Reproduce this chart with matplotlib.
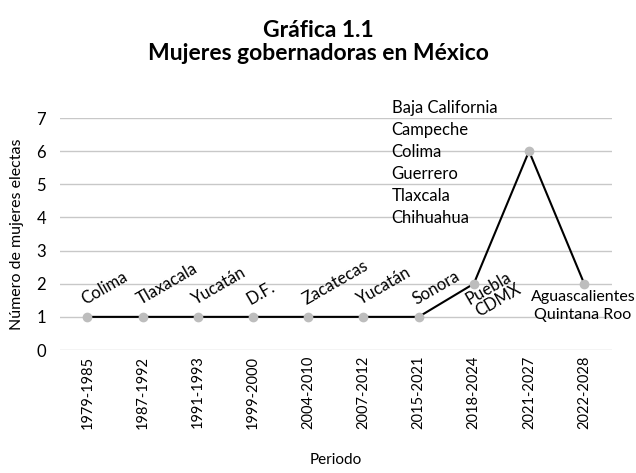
import matplotlib
matplotlib.use("Agg")
import matplotlib.pyplot as plt

plt.rcParams['font.family'] = ['Lato', 'DejaVu Sans']

periodos = ['1979-1985', '1987-1992', '1991-1993', '1999-2000', '2004-2010',
            '2007-2012', '2015-2021', '2018-2024', '2021-2027', '2022-2028']
mujeres = [1, 1, 1, 1, 1, 1, 1, 2, 6, 2]
estados = ['Colima', 'Tlaxacala', 'Yucatán', 'D.F.', 'Zacatecas', 'Yucatán',
           'Sonora', 'Puebla\nCDMX',
           'Baja California\nCampeche\nColima\nGuerrero\nTlaxcala\nChihuahua',
           'Aguascalientes\nQuintana Roo']

fig = plt.figure(figsize=(6.36, 4.73), dpi=100)
ax = fig.add_axes([0.094, 0.26, 0.868, 0.4905])

x = list(range(len(periodos)))
ax.plot(x, mujeres, color='black', lw=1.5, zorder=2)
ax.plot(x, mujeres, 'o', color='#bdbdbd', ms=6, zorder=3)

ax.set_xlim(-0.5, len(periodos) - 0.5)
ax.set_ylim(0, 7)
ax.set_yticks(range(0, 8))
ax.yaxis.grid(True, color='#c8c8c8', lw=1)
ax.set_axisbelow(True)
for s in ax.spines.values():
    s.set_visible(False)
ax.tick_params(length=0, labelsize=12)
ax.tick_params(axis='y', pad=10)
ax.tick_params(axis='x', pad=4)
ax.set_xticks(x)
ax.set_xticklabels(periodos, rotation=90, fontsize=10.5)

# etiquetas de estados, giradas sobre la linea
for i in range(7):
    ax.annotate(estados[i], (x[i], mujeres[i]), xytext=(-1.5, 8.5), textcoords='offset points',
                rotation=30, rotation_mode='anchor', ha='left', va='baseline', fontsize=12)
# Puebla / CDMX, cada linea por separado
for linea, off in zip(estados[7].split('\n'), [(-3, -15), (3.6, -24)]):
    ax.annotate(linea, (x[7], mujeres[7]), xytext=off, textcoords='offset points',
                rotation=30, rotation_mode='anchor', ha='left', va='baseline', fontsize=12)
# pila de 2021-2027
for j, linea in enumerate(estados[8].split('\n')):
    ax.annotate(linea, (x[8], mujeres[8]), xytext=(-99, 31 - j * 15.8), textcoords='offset points',
                ha='left', va='center', fontsize=12)
for j, linea in enumerate(estados[9].split('\n')):
    ax.annotate(linea, (x[9], mujeres[9]), xytext=(-1, -9.5 - j * 13), textcoords='offset points',
                ha='center', va='center', fontsize=11.5, annotation_clip=False)

ax.set_ylabel('Número de mujeres electas', fontsize=11.5, labelpad=9)
ax.set_xlabel('Periodo', fontsize=11, labelpad=17)

fig.text(0.5, 0.935, 'Gráfica 1.1', ha='center', va='center', fontsize=16.5, fontweight='bold')
fig.text(0.5, 0.886, 'Mujeres gobernadoras en México', ha='center', va='center',
         fontsize=16.5, fontweight='bold')

fig.savefig('out.png', dpi=100)
